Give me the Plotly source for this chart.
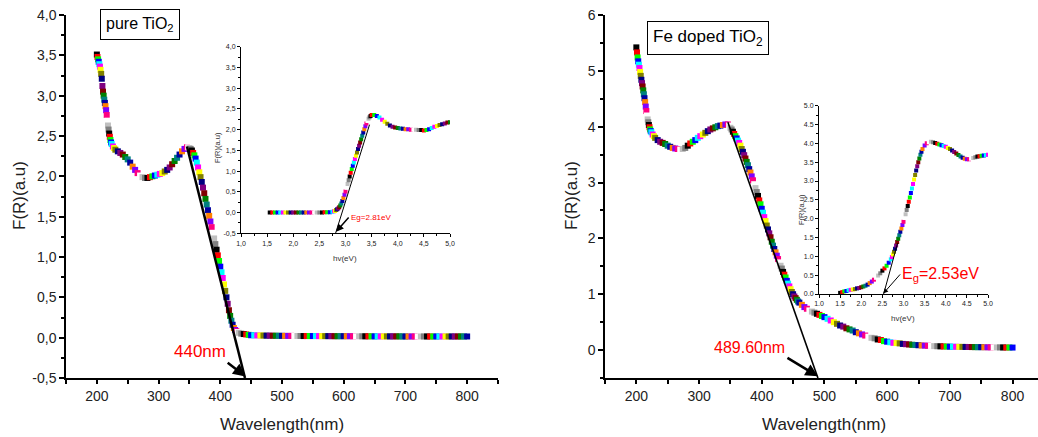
import plotly.graph_objects as go

# ---------------- data: pure TiO2 (main panel) ----------------
pure_wl = [200, 201, 202, 203, 204, 205, 206, 207, 208, 209, 210, 211, 212, 213, 214, 215, 216, 217, 218, 219,
           220, 221, 222, 223, 224, 226, 228, 230, 234, 238, 242, 246, 250, 254, 258, 262, 266, 270, 274, 278,
           282, 286, 290, 294, 298, 302, 306, 310, 314, 318, 322, 326, 330, 334, 338, 342, 346, 348, 350, 352,
           354, 356, 358, 360, 362, 364, 366, 368, 370, 372, 374, 376, 378, 380, 382, 384, 386, 388, 390, 392,
           394, 396, 398, 400, 402, 404, 406, 408, 410, 412, 414, 416, 418, 420, 422, 424, 426, 428, 430, 434,
           438, 442, 446, 450, 455, 460, 465, 470, 475, 480, 485, 490, 495, 500, 505, 510, 515, 520, 525, 530,
           535, 540, 545, 550, 555, 560, 565, 570, 575, 580, 585, 590, 595, 600, 605, 610, 615, 620, 625, 630,
           635, 640, 645, 650, 655, 660, 665, 670, 675, 680, 685, 690, 695, 700, 705, 710, 715, 720, 725, 730,
           735, 740, 745, 750, 755, 760, 765, 770, 775, 780, 785, 790, 795, 800]
pure_fr = [3.51, 3.48, 3.45, 3.42, 3.39, 3.36, 3.32, 3.27, 3.21, 3.12, 3.05, 3.00, 2.95, 2.91, 2.87, 2.82, 2.76, 2.69, 2.63, 2.58,
           2.53, 2.49, 2.45, 2.42, 2.40, 2.37, 2.35, 2.33, 2.31, 2.29, 2.27, 2.24, 2.21, 2.17, 2.12, 2.08, 2.04, 2.01, 1.99, 1.98,
           1.98, 1.99, 2.00, 2.01, 2.02, 2.03, 2.04, 2.06, 2.08, 2.11, 2.15, 2.19, 2.23, 2.27, 2.31, 2.34, 2.36, 2.36, 2.35, 2.34,
           2.32, 2.29, 2.26, 2.22, 2.17, 2.11, 2.05, 1.99, 1.93, 1.86, 1.79, 1.72, 1.65, 1.58, 1.51, 1.44, 1.37, 1.30, 1.23, 1.16,
           1.09, 1.02, 0.95, 0.88, 0.81, 0.74, 0.66, 0.58, 0.50, 0.42, 0.34, 0.27, 0.21, 0.16, 0.12, 0.095, 0.08, 0.07, 0.06, 0.05,
           0.045, 0.04, 0.035, 0.03, 0.03, 0.028, 0.027, 0.026, 0.025, 0.025, 0.024, 0.024, 0.023, 0.023, 0.022, 0.022, 0.022, 0.021, 0.021, 0.021,
           0.02, 0.02, 0.02, 0.02, 0.02, 0.019, 0.019, 0.019, 0.019, 0.019, 0.018, 0.018, 0.018, 0.018, 0.018, 0.018, 0.017, 0.017, 0.017, 0.017,
           0.017, 0.017, 0.017, 0.016, 0.016, 0.016, 0.016, 0.016, 0.016, 0.016, 0.016, 0.016, 0.015, 0.015, 0.015, 0.015, 0.015, 0.015, 0.015, 0.015,
           0.015, 0.015, 0.015, 0.015, 0.015, 0.015, 0.015, 0.015, 0.015, 0.015, 0.015, 0.015, 0.015, 0.015]

# ---------------- data: Fe doped TiO2 (main panel) ----------------
fe_wl = [200, 201, 202, 203, 204, 205, 206, 207, 208, 209, 210, 211, 212, 213, 214, 215, 216, 217, 218, 219,
         220, 221, 222, 223, 224, 226, 228, 230, 234, 238, 242, 246, 250, 254, 258, 262, 266, 270, 274, 278,
         282, 286, 290, 294, 298, 302, 306, 310, 314, 318, 322, 326, 330, 334, 338, 342, 346, 348, 350, 352,
         354, 356, 358, 360, 362, 364, 366, 368, 370, 372, 374, 376, 378, 380, 382, 384, 386, 388, 390, 392,
         394, 396, 398, 400, 402, 404, 406, 408, 410, 412, 414, 416, 418, 420, 422, 424, 426, 428, 430, 432,
         434, 436, 438, 440, 442, 444, 446, 448, 450, 452, 454, 456, 458, 460, 464, 468, 472, 476, 480, 484,
         488, 492, 496, 500, 505, 510, 515, 520, 525, 530, 535, 540, 545, 550, 555, 560, 565, 570, 575, 580,
         585, 590, 595, 600, 605, 610, 615, 620, 625, 630, 635, 640, 645, 650, 655, 660, 665, 670, 675, 680,
         685, 690, 695, 700, 705, 710, 715, 720, 725, 730, 735, 740, 745, 750, 755, 760, 765, 770, 775, 780,
         785, 790, 795, 800]
fe_fr = [5.42, 5.33, 5.24, 5.17, 5.11, 5.05, 4.98, 4.91, 4.84, 4.78, 4.72, 4.65, 4.58, 4.51, 4.44, 4.36, 4.28, 4.20, 4.13, 4.08,
         4.03, 3.99, 3.95, 3.92, 3.90, 3.86, 3.83, 3.80, 3.76, 3.73, 3.71, 3.69, 3.66, 3.64, 3.62, 3.61, 3.60, 3.59, 3.60, 3.62,
         3.66, 3.70, 3.73, 3.76, 3.80, 3.83, 3.86, 3.89, 3.92, 3.95, 3.97, 3.99, 4.01, 4.02, 4.03, 4.04, 4.04, 4.02, 3.98, 3.95,
         3.91, 3.87, 3.83, 3.79, 3.75, 3.71, 3.66, 3.60, 3.55, 3.49, 3.43, 3.37, 3.31, 3.24, 3.18, 3.11, 3.04, 2.97, 2.90, 2.83,
         2.76, 2.68, 2.61, 2.53, 2.46, 2.38, 2.31, 2.23, 2.16, 2.09, 2.02, 1.94, 1.87, 1.81, 1.75, 1.69, 1.63, 1.57, 1.51, 1.46,
         1.40, 1.35, 1.30, 1.24, 1.19, 1.14, 1.09, 1.04, 1.00, 0.96, 0.93, 0.90, 0.87, 0.85, 0.81, 0.77, 0.74, 0.71, 0.69, 0.67,
         0.65, 0.63, 0.61, 0.59, 0.56, 0.53, 0.50, 0.47, 0.44, 0.42, 0.39, 0.37, 0.35, 0.32, 0.30, 0.28, 0.26, 0.24, 0.22, 0.21,
         0.19, 0.18, 0.16, 0.15, 0.14, 0.13, 0.125, 0.12, 0.11, 0.105, 0.10, 0.095, 0.09, 0.087, 0.083, 0.08, 0.077, 0.074, 0.071, 0.069,
         0.067, 0.065, 0.063, 0.061, 0.060, 0.059, 0.058, 0.057, 0.056, 0.055, 0.054, 0.053, 0.052, 0.052, 0.051, 0.050, 0.049, 0.049, 0.048, 0.048,
         0.047, 0.046, 0.046, 0.045]

# ---------------- data: insets (photon energy, eV) ----------------
pure_ev = [1.55, 1.60, 1.65, 1.70, 1.75, 1.80, 1.85, 1.90, 1.95, 2.00, 2.05, 2.10, 2.15, 2.20, 2.25, 2.30, 2.35, 2.40, 2.45, 2.50,
           2.55, 2.60, 2.65, 2.70, 2.75, 2.78, 2.80, 2.82, 2.84, 2.86, 2.88, 2.90, 2.92, 2.94, 2.96, 2.98, 3.00, 3.02, 3.04, 3.06,
           3.08, 3.10, 3.12, 3.14, 3.16, 3.18, 3.20, 3.22, 3.24, 3.26, 3.28, 3.30, 3.32, 3.34, 3.36, 3.38, 3.40, 3.42, 3.44, 3.46,
           3.48, 3.50, 3.55, 3.60, 3.65, 3.70, 3.75, 3.80, 3.85, 3.90, 3.95, 4.00, 4.05, 4.10, 4.15, 4.20, 4.25, 4.30, 4.35, 4.40,
           4.45, 4.50, 4.55, 4.60, 4.65, 4.70, 4.75, 4.80, 4.85, 4.90, 4.95, 5.00]
pure_ev_fr = [0.00, 0.00, 0.00, 0.00, 0.00, 0.00, 0.00, 0.00, 0.00, 0.00, 0.00, 0.00, 0.00, 0.00, 0.00, 0.00, 0.00, 0.00, 0.00, 0.00,
              0.00, 0.01, 0.01, 0.01, 0.02, 0.03, 0.04, 0.06, 0.08, 0.10, 0.13, 0.17, 0.22, 0.28, 0.35, 0.43, 0.51, 0.60, 0.69, 0.78,
              0.87, 0.96, 1.05, 1.13, 1.21, 1.29, 1.37, 1.45, 1.53, 1.61, 1.69, 1.77, 1.85, 1.93, 2.01, 2.08, 2.15, 2.21, 2.26, 2.30,
              2.33, 2.35, 2.35, 2.33, 2.29, 2.24, 2.19, 2.14, 2.10, 2.07, 2.05, 2.04, 2.03, 2.02, 2.01, 2.01, 2.00, 2.00, 2.00, 1.99,
              1.99, 1.98, 1.99, 2.01, 2.04, 2.07, 2.09, 2.11, 2.13, 2.15, 2.17, 2.18]

fe_ev = [1.50, 1.55, 1.60, 1.65, 1.70, 1.75, 1.80, 1.85, 1.90, 1.95, 2.00, 2.05, 2.10, 2.15, 2.20, 2.25, 2.30, 2.35, 2.40, 2.45,
         2.50, 2.55, 2.60, 2.65, 2.70, 2.725, 2.75, 2.775, 2.80, 2.825, 2.85, 2.875, 2.90, 2.925, 2.95, 2.975, 3.00, 3.025, 3.05, 3.075,
         3.10, 3.125, 3.15, 3.175, 3.20, 3.225, 3.25, 3.275, 3.30, 3.325, 3.35, 3.375, 3.40, 3.425, 3.45, 3.50, 3.55, 3.60, 3.65, 3.70,
         3.75, 3.80, 3.85, 3.90, 3.95, 4.00, 4.05, 4.10, 4.15, 4.20, 4.25, 4.30, 4.35, 4.40, 4.45, 4.50, 4.55, 4.60, 4.65, 4.70,
         4.75, 4.80, 4.85, 4.90, 4.95, 5.00]
fe_ev_fr = [0.03, 0.05, 0.07, 0.08, 0.10, 0.11, 0.12, 0.13, 0.15, 0.16, 0.18, 0.20, 0.22, 0.25, 0.29, 0.33, 0.38, 0.43, 0.49, 0.55,
            0.62, 0.68, 0.75, 0.83, 0.92, 0.98, 1.05, 1.12, 1.20, 1.29, 1.38, 1.47, 1.56, 1.65, 1.74, 1.83, 1.92, 2.02, 2.12, 2.23,
            2.34, 2.45, 2.56, 2.68, 2.80, 2.92, 3.04, 3.16, 3.28, 3.39, 3.50, 3.60, 3.70, 3.78, 3.85, 3.94, 4.00, 4.03, 4.04, 4.03,
            4.01, 3.99, 3.97, 3.95, 3.93, 3.91, 3.88, 3.85, 3.81, 3.77, 3.73, 3.69, 3.65, 3.62, 3.59, 3.58, 3.58, 3.59, 3.61, 3.63,
            3.65, 3.66, 3.67, 3.68, 3.69, 3.70]

# tangent (band-edge extrapolation) lines
pure_tan_wl = [346, 440]
pure_tan_fr = [2.37, -0.5]
fe_tan_wl = [346, 489.6]
fe_tan_fr = [4.08, -0.5]
pure_tan_ev = [2.81, 3.46]
pure_tan_ev_fr = [-0.5, 2.12]
fe_tan_ev = [2.53, 2.86]
fe_tan_ev_fr = [0.0, 1.35]

# tick labels
main_x_vals = [200, 300, 400, 500, 600, 700, 800]
main_x_text = ["200", "300", "400", "500", "600", "700", "800"]
pure_y_vals = [-0.5, 0.0, 0.5, 1.0, 1.5, 2.0, 2.5, 3.0, 3.5, 4.0]
pure_y_text = ["-0,5", "0,0", "0,5", "1,0", "1,5", "2,0", "2,5", "3,0", "3,5", "4,0"]
fe_y_vals = [0, 1, 2, 3, 4, 5, 6]
fe_y_text = ["0", "1", "2", "3", "4", "5", "6"]
inset_x_vals = [1.0, 1.5, 2.0, 2.5, 3.0, 3.5, 4.0, 4.5, 5.0]
pure_inset_x_text = ["1,0", "1,5", "2,0", "2,5", "3,0", "3,5", "4,0", "4,5", "5,0"]
fe_inset_x_text = ["1.0", "1.5", "2.0", "2.5", "3.0", "3.5", "4.0", "4.5", "5.0"]
pure_inset_y_vals = [-0.5, 0.0, 0.5, 1.0, 1.5, 2.0, 2.5, 3.0, 3.5, 4.0]
pure_inset_y_text = ["-0,5", "0,0", "0,5", "1,0", "1,5", "2,0", "2,5", "3,0", "3,5", "4,0"]
fe_inset_y_vals = [0.0, 0.5, 1.0, 1.5, 2.0, 2.5, 3.0, 3.5, 4.0, 4.5, 5.0]
fe_inset_y_text = ["0.0", "0.5", "1.0", "1.5", "2.0", "2.5", "3.0", "3.5", "4.0", "4.5", "5.0"]

# ---------------- styling ----------------
W, H = 1038, 437
FONT = "Liberation Sans, Arial, sans-serif"
ORIGIN_CYCLE = ['#000000', '#FF0000', '#00FF00', '#0000FF', '#00FFFF', '#FF00FF', '#FFFF00', '#808000',
                '#000080', '#800080', '#800000', '#008000', '#008080', '#0000A0', '#FF8000', '#8000FF',
                '#FF0080', '#FFFFFF', '#C0C0C0', '#808080']


def px(x):
    return x / W


def py(y):
    return 1 - y / H


def cyc(n):
    return [ORIGIN_CYCLE[i % len(ORIGIN_CYCLE)] for i in range(n)]


fig = go.Figure()


def add_markers(x, y, xa, ya, size):
    fig.add_trace(go.Scatter(x=x, y=y, xaxis=xa, yaxis=ya, mode="markers",
                             marker=dict(symbol="square", size=size, color=cyc(len(x)), line=dict(width=0)),
                             showlegend=False, hoverinfo="x+y"))


def add_line(x, y, xa, ya, w):
    fig.add_trace(go.Scatter(x=x, y=y, xaxis=xa, yaxis=ya, mode="lines",
                             line=dict(color="black", width=w), showlegend=False, hoverinfo="skip"))


add_markers(pure_wl, pure_fr, "x", "y", 6)
add_line(pure_tan_wl, pure_tan_fr, "x", "y", 2.5)
add_markers(fe_wl, fe_fr, "x2", "y2", 6)
add_line(fe_tan_wl, fe_tan_fr, "x2", "y2", 1.6)
add_markers(pure_ev, pure_ev_fr, "x3", "y3", 4)
add_line(pure_tan_ev, pure_tan_ev_fr, "x3", "y3", 1)
add_markers(fe_ev, fe_ev_fr, "x4", "y4", 4)
add_line(fe_tan_ev, fe_tan_ev_fr, "x4", "y4", 1)


def axis(domain, rng, vals, text, anchor, size, lw, tl, minor_dtick, minor_tick0, mtl):
    return dict(domain=domain, range=rng, anchor=anchor, tickmode="array", tickvals=vals, ticktext=text,
                showline=True, linecolor="black", linewidth=lw, ticks="outside", ticklen=tl, tickwidth=lw,
                tickcolor="black", showgrid=False, zeroline=False, automargin=False,
                tickfont=dict(family=FONT, size=size, color="#222"),
                minor=dict(ticks="outside", ticklen=mtl, tickwidth=lw, tickcolor="black", tickmode="linear",
                           tick0=minor_tick0, dtick=minor_dtick, showgrid=False))


fig.update_layout(
    width=W, height=H, margin=dict(l=0, r=0, t=0, b=0),
    paper_bgcolor="white", plot_bgcolor="rgba(0,0,0,0)",
    font=dict(family=FONT, color="#222"),
    xaxis=axis([px(66), px(498)], [150, 850], main_x_vals, main_x_text, "y", 14, 1.5, 4, 50, 150, 4),
    yaxis=axis([py(378), py(15)], [-0.5, 4.0], pure_y_vals, pure_y_text, "x", 14, 1.5, 5, 0.25, 0, 3),
    xaxis2=axis([px(605), 1.0], [150, 840.6], main_x_vals, main_x_text, "y2", 14, 1.5, 4, 50, 150, 4),
    yaxis2=axis([py(378), py(15)], [-0.5, 6.0], fe_y_vals, fe_y_text, "x2", 14, 1.5, 5, 0.5, 0, 3),
    xaxis3=axis([px(241), px(450)], [1.0, 5.0], inset_x_vals, pure_inset_x_text, "y3", 7, 1, 3, 0.25, 1, 2),
    yaxis3=axis([py(233.3), py(46.7)], [-0.5, 4.0], pure_inset_y_vals, pure_inset_y_text, "x3", 7, 1, 3, 0.25, 0, 2),
    xaxis4=axis([px(819), px(988)], [1.0, 5.0], inset_x_vals, fe_inset_x_text, "y4", 7, 1, 3, 0.25, 1, 2),
    yaxis4=axis([py(294), py(105.7)], [0.0, 5.0], fe_inset_y_vals, fe_inset_y_text, "x4", 7, 1, 3, 0.25, 0, 2),
)


def text_ann(text, x, y, size, color="#222", angle=0, **kw):
    d = dict(text=text, xref="paper", yref="paper", x=px(x), y=py(y), xanchor="center", yanchor="middle",
             textangle=angle, showarrow=False, font=dict(size=size, family=FONT, color=color))
    d.update(kw)
    return d


def arrow_label(text, xa, ya, head, tail, xanchor, yanchor, size, width):
    return dict(text=text, xref=xa, yref=ya, x=head[0], y=head[1], axref=xa, ayref=ya, ax=tail[0], ay=tail[1],
                xanchor=xanchor, yanchor=yanchor, showarrow=True, arrowhead=2, arrowsize=1, arrowwidth=width,
                arrowcolor="black", standoff=0, startstandoff=0,
                font=dict(size=size, family=FONT, color="#FF0000"))


ann = []
# axis titles
ann.append(text_ann("F(R)(a.u)", 19, 196, 17, angle=-90))
ann.append(text_ann("F(R)(a.u)", 571, 196, 17, angle=-90))
ann.append(text_ann("Wavelength(nm)", 282, 424, 17))
ann.append(text_ann("Wavelength(nm)", 824, 424, 17))
ann.append(text_ann("hv(eV)", 345, 258, 8, color="#333"))
ann.append(text_ann("hv(eV)", 903, 318, 8, color="#333"))
ann.append(text_ann("F(R)(a.u)", 217, 148, 7.5, color="#333", angle=-90))
ann.append(text_ann("F(R)(a.u)", 801, 210, 7.5, color="#333", angle=-90))
# sample labels
ann.append(text_ann("pure TiO<sub>2</sub>", 140, 24.5, 16, color="black",
                    bordercolor="black", borderwidth=1, borderpad=5, bgcolor="white"))
ann.append(text_ann("Fe doped TiO<sub>2</sub>", 707.5, 37.5, 17, color="black",
                    bordercolor="black", borderwidth=1, borderpad=5, bgcolor="white"))
# band edge labels with their arrows
ann.append(arrow_label("440nm", "x", "y", (441, -0.48), (412, -0.31), "right", "bottom", 17, 2.5))
ann.append(arrow_label("489.60nm", "x2", "y2", (489.6, -0.47), (441, -0.14), "right", "bottom", 16, 2.5))
ann.append(arrow_label("Eg=2.81eV", "x3", "y3", (2.82, -0.46), (3.06, -0.12), "left", "middle", 8, 1.5))
ann.append(arrow_label("E<sub>g</sub>=2.53eV", "x4", "y4", (2.52, 0.01), (2.92, 0.52), "left", "middle", 16, 1))
fig.update_layout(annotations=ann)

fig.write_html("out.html", config={"displayModeBar": False},
               post_script="document.body.style.margin='0';document.body.style.padding='0';"
                           "document.body.style.overflow='hidden';")
